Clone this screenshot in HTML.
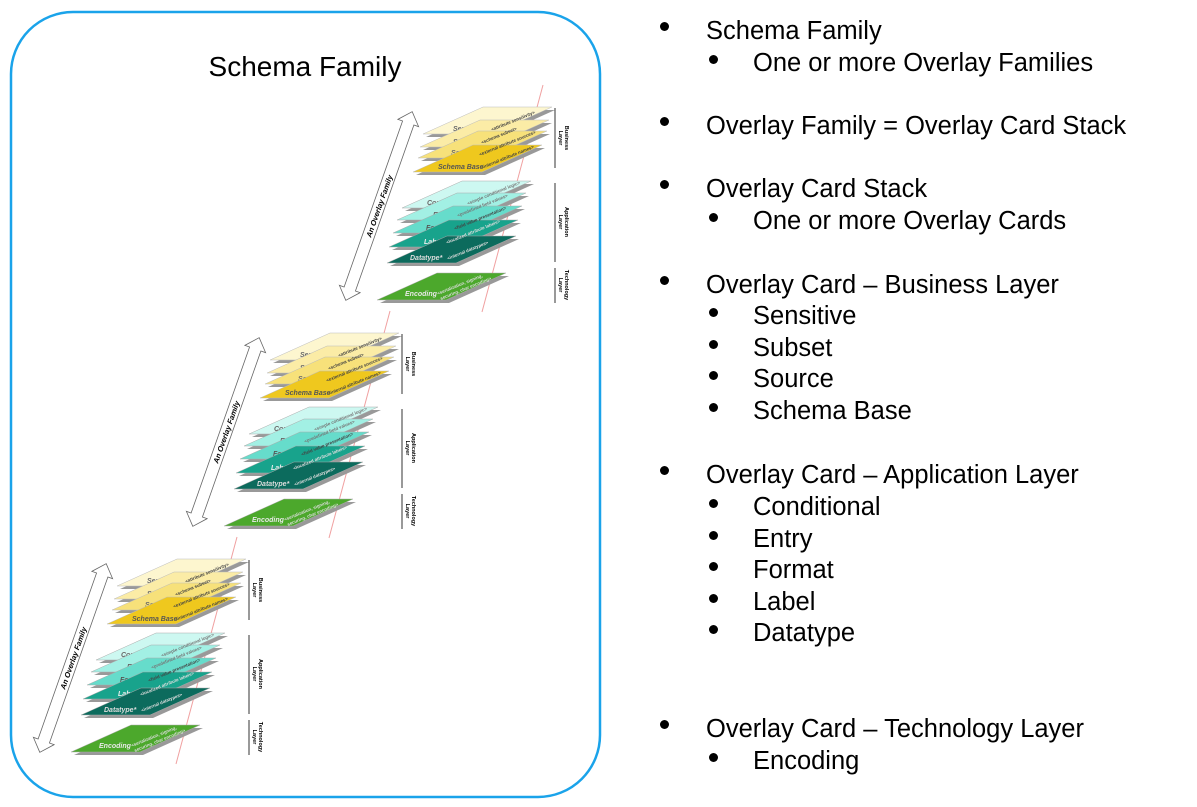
<!DOCTYPE html>
<html><head><meta charset="utf-8"><style>
body{margin:0;background:#fff;width:1197px;height:807px;overflow:hidden;position:relative;font-family:"Liberation Sans",Arial,sans-serif}
.t{position:absolute;font-size:25.5px;color:#000;white-space:nowrap;line-height:1}
.b{position:absolute;width:9px;height:9px;border-radius:50%;background:#000}
</style></head><body>
<svg width="1197" height="807" style="position:absolute;left:0;top:0" font-family="Liberation Sans, Arial, sans-serif">
<defs>
<g id="none"></g>
</defs>
<rect x="11" y="12" width="589" height="785" rx="62" fill="none" stroke="#1aa3ea" stroke-width="2.5"/>
<text x="305" y="76" font-size="28" text-anchor="middle">Schema Family</text>
<!-- stack template repeated -->
<g id="s1">
<line x1="543" y1="85" x2="482" y2="312" stroke="#f0a0a0" stroke-width="1"/>
<g transform="translate(379,206) rotate(-70.6)"><polygon points="-100,0 -88,-11 -88,-6 88,-6 88,-11 100,0 88,11 88,6 -88,6 -88,11" fill="#fff" stroke="#666" stroke-width="0.8"/><text x="0" y="3" font-size="7.5" font-weight="bold" font-style="italic" text-anchor="middle">An Overlay Family</text></g>
<g font-style="italic" font-weight="bold">
<polygon points="426,137 486,110 555,110 495,137" fill="#999"/><polygon points="423,134 483,107 552,107 492,134" fill="#fdf6cf" stroke="#bbb" stroke-width=".5"/><text x="453" y="131" font-size="7" fill="#666">Sensitive</text>
<polygon points="423,150 483,123 552,123 492,150" fill="#999"/><polygon points="420,147 480,120 549,120 489,147" fill="#fbeca6" stroke="#bbb" stroke-width=".5"/><text x="453" y="144" font-size="7" fill="#666">Subset</text>
<polygon points="421,161 481,134 550,134 490,161" fill="#999"/><polygon points="418,158 478,131 547,131 487,158" fill="#f7e17a" stroke="#bbb" stroke-width=".5"/><text x="451" y="155" font-size="7" fill="#666">Source</text>
<polygon points="416,175 476,148 545,148 485,175" fill="#999"/><polygon points="413,172 473,145 542,145 482,172" fill="#efc81e" stroke="#bbb" stroke-width=".5"/><text x="438" y="169" font-size="7" fill="#555">Schema Base</text>
<polygon points="405,211 465,184 534,184 474,211" fill="#999"/><polygon points="402,208 462,181 531,181 471,208" fill="#cdf8f1" stroke="#aaa" stroke-width=".5"/><text x="427" y="205" font-size="7" fill="#666">Conditional</text>
<polygon points="400,223 460,196 529,196 469,223" fill="#999"/><polygon points="397,220 457,193 526,193 466,220" fill="#a2f0e4" stroke="#aaa" stroke-width=".5"/><text x="433" y="217" font-size="7" fill="#666">Entry</text>
<polygon points="396,236 456,209 525,209 465,236" fill="#999"/><polygon points="393,233 453,206 522,206 462,233" fill="#66dccb" stroke="#aaa" stroke-width=".5"/><text x="426" y="230" font-size="7" fill="#555">Format</text>
<polygon points="392,250 452,223 521,223 461,250" fill="#999"/><polygon points="389,247 449,220 518,220 458,247" fill="#18a38c" stroke="#aaa" stroke-width=".5"/><text x="424" y="244" font-size="7" fill="#eee">Label</text>
<polygon points="390,266 450,239 519,239 459,266" fill="#999"/><polygon points="387,263 447,236 516,236 456,263" fill="#0c6b5d" stroke="#aaa" stroke-width=".5"/><text x="410" y="260" font-size="7" fill="#ddd">Datatype*</text>
<polygon points="380,303 440,276 509,276 449,303" fill="#999"/><polygon points="377,300 437,273 506,273 446,300" fill="#4ca82c" stroke="#aaa" stroke-width=".5"/><text x="405" y="296" font-size="7" fill="#e8e8e8">Encoding</text>
</g>
<g font-size="4.5" fill="#444" font-weight="bold">
<text transform="translate(492,131) rotate(-22)">&lt;attribute sensitivity&gt;</text>
<text transform="translate(482,144) rotate(-22)">&lt;schema subset&gt;</text>
<text transform="translate(480,156) rotate(-22)">&lt;external attribute sources&gt;</text>
<text transform="translate(482,169) rotate(-22)">&lt;internal attribute names&gt;</text>
<text transform="translate(468,205) rotate(-22)" fill="#777">&lt;simple conditional logic&gt;</text>
<text transform="translate(458,217) rotate(-22)" fill="#777">&lt;predefined field values&gt;</text>
<text transform="translate(455,230) rotate(-22)">&lt;field value presentation&gt;</text>
<text transform="translate(447,244) rotate(-22)" fill="#ddd">&lt;localized attribute labels&gt;</text>
<text transform="translate(448,260) rotate(-22)" fill="#ddd">&lt;internal datatypes&gt;</text>
<text transform="translate(438,295) rotate(-22)" fill="#ddd">&lt;serialization, signing,</text>
<text transform="translate(441,300) rotate(-22)" fill="#ddd">securing, char encoding&gt;</text>
</g>
<g stroke="#333" stroke-width="1"><line x1="555" y1="108" x2="555" y2="168"/><line x1="555" y1="183" x2="555" y2="262"/><line x1="555" y1="268" x2="555" y2="303"/></g>
<g font-size="5.5" font-weight="bold" text-anchor="middle">
<text transform="translate(565,138) rotate(90)">Business<tspan x="0" dy="6">Layer</tspan></text>
<text transform="translate(565,222) rotate(90)">Application<tspan x="0" dy="6">Layer</tspan></text>
<text transform="translate(565,285) rotate(90)">Technology<tspan x="0" dy="6">Layer</tspan></text>
</g>
</g>
<use href="#s1" transform="translate(-153,226)"/>
<use href="#s1" transform="translate(-306,452)"/>
</svg>
<div class="b" style="left:660px;top:22px"></div><div class="t" style="left:706px;top:19px">Schema Family</div>
<div class="b" style="left:709px;top:55px"></div><div class="t" style="left:753px;top:51px">One or more Overlay Families</div>
<div class="b" style="left:660px;top:117px"></div><div class="t" style="left:706px;top:114px">Overlay Family = Overlay Card Stack</div>
<div class="b" style="left:660px;top:180px"></div><div class="t" style="left:706px;top:177px">Overlay Card Stack</div>
<div class="b" style="left:709px;top:213px"></div><div class="t" style="left:753px;top:209px">One or more Overlay Cards</div>
<div class="b" style="left:660px;top:276px"></div><div class="t" style="left:706px;top:273px">Overlay Card – Business Layer</div>
<div class="b" style="left:709px;top:308px"></div><div class="t" style="left:753px;top:304px">Sensitive</div>
<div class="b" style="left:709px;top:340px"></div><div class="t" style="left:753px;top:336px">Subset</div>
<div class="b" style="left:709px;top:371px"></div><div class="t" style="left:753px;top:367px">Source</div>
<div class="b" style="left:709px;top:403px"></div><div class="t" style="left:753px;top:399px">Schema Base</div>
<div class="b" style="left:660px;top:466px"></div><div class="t" style="left:706px;top:463px">Overlay Card – Application Layer</div>
<div class="b" style="left:709px;top:499px"></div><div class="t" style="left:753px;top:495px">Conditional</div>
<div class="b" style="left:709px;top:531px"></div><div class="t" style="left:753px;top:527px">Entry</div>
<div class="b" style="left:709px;top:562px"></div><div class="t" style="left:753px;top:558px">Format</div>
<div class="b" style="left:709px;top:594px"></div><div class="t" style="left:753px;top:590px">Label</div>
<div class="b" style="left:709px;top:625px"></div><div class="t" style="left:753px;top:621px">Datatype</div>
<div class="b" style="left:660px;top:720px"></div><div class="t" style="left:706px;top:717px">Overlay Card – Technology Layer</div>
<div class="b" style="left:709px;top:753px"></div><div class="t" style="left:753px;top:749px">Encoding</div>
</body></html>
